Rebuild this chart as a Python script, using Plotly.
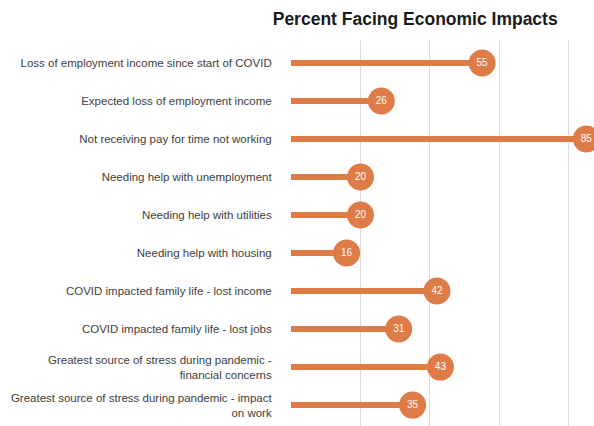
import plotly.graph_objects as go

categories = [
    "Loss of employment income since start of COVID",
    "Expected loss of employment income",
    "Not receiving pay for time not working",
    "Needing help with unemployment",
    "Needing help with utilities",
    "Needing help with housing",
    "COVID impacted family life - lost income",
    "COVID impacted family life - lost jobs",
    "Greatest source of stress during pandemic -<br>financial concerns",
    "Greatest source of stress during pandemic - impact<br>on work",
]
values = [55, 26, 85, 20, 20, 16, 42, 31, 43, 35]

ORANGE = "#DE7C48"
FONT = "Liberation Sans, Arial, sans-serif"

# stems from zero to each value
stem_x, stem_y = [], []
for c, v in zip(categories, values):
    stem_x += [0, v, None]
    stem_y += [c, c, None]

fig = go.Figure()
fig.add_trace(go.Scatter(
    x=stem_x, y=stem_y, mode="lines",
    line=dict(color=ORANGE, width=6),
    hoverinfo="skip", showlegend=False,
))
fig.add_trace(go.Scatter(
    x=values, y=categories, mode="markers+text",
    marker=dict(color=ORANGE, size=27, line=dict(width=0)),
    text=[str(v) for v in values], textposition="middle center",
    textfont=dict(color="white", size=10, family=FONT),
    showlegend=False, cliponaxis=False,
))

fig.update_layout(
    width=594, height=426,
    margin=dict(l=291, r=0, t=40, b=0, autoexpand=False),
    paper_bgcolor="white", plot_bgcolor="white",
    title=dict(
        text="<b>Percent Facing Economic Impacts</b>",
        x=0.699, xref="container", xanchor="center",
        y=0.955, yref="container", yanchor="middle",
        font=dict(family=FONT, size=17.5, color="#1a1a1a"),
    ),
    xaxis=dict(
        range=[0, 87.2], tickvals=[0, 20, 40, 60, 80], showticklabels=False,
        showgrid=True, gridcolor="#DCDCDC", gridwidth=1,
        zeroline=False, showline=False, fixedrange=True, automargin=False,
    ),
    yaxis=dict(
        categoryorder="array", categoryarray=categories,
        range=[9.55, -0.605], showgrid=False, zeroline=False, showline=False,
        ticks="outside", ticklen=16, tickcolor="rgba(0,0,0,0)",
        tickfont=dict(family=FONT, size=11.5, color="#404040"),
        fixedrange=True, automargin=False,
    ),
)

fig.write_html("out.html")
